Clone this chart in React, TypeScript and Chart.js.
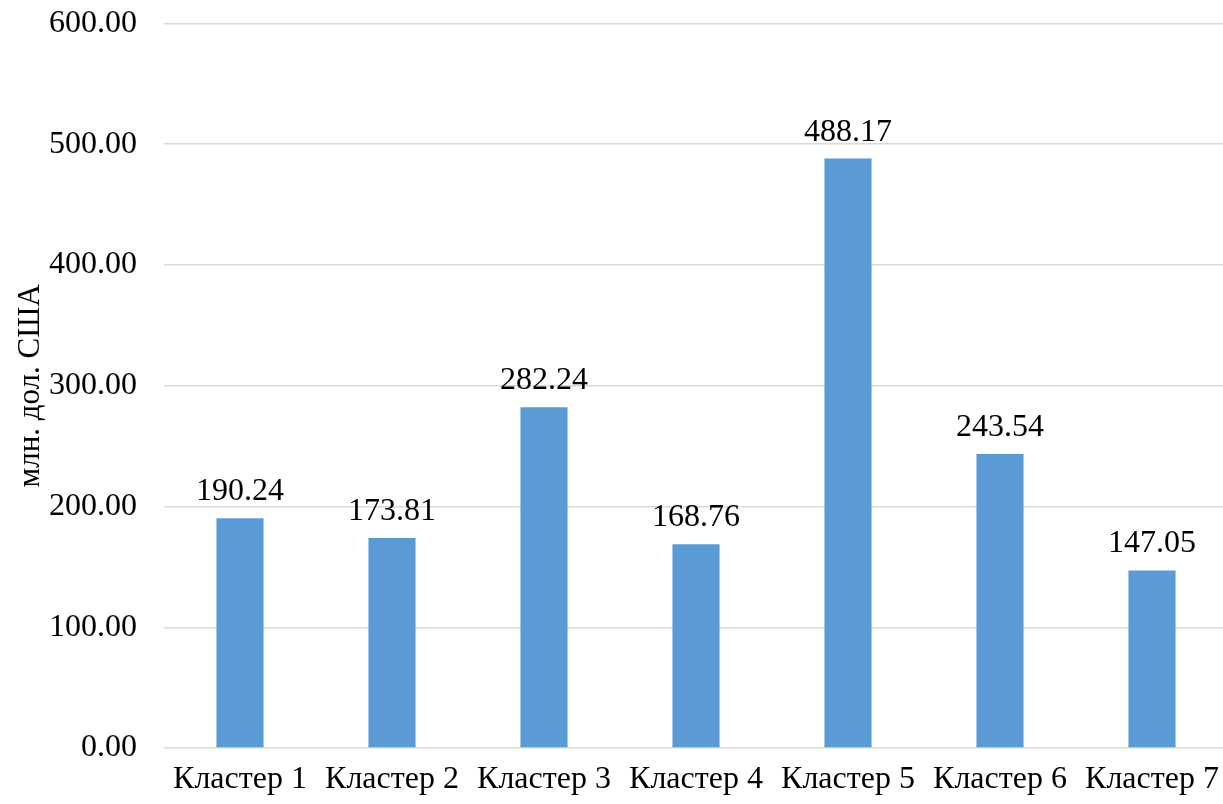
import React, { useEffect, useRef } from "react";
import { Chart, registerables } from "chart.js";

Chart.register(...registerables);

const categories = ["Кластер 1", "Кластер 2", "Кластер 3", "Кластер 4", "Кластер 5", "Кластер 6", "Кластер 7"];
const values = [190.24, 173.81, 282.24, 168.76, 488.17, 243.54, 147.05];
const yTicks = [0, 100, 200, 300, 400, 500, 600];
const yTitle = "млн. дол. США";

const FONT = "'Liberation Serif', 'Times New Roman', serif";

const dataLabels = {
  id: "dataLabels",
  afterDatasetsDraw(chart: any) {
    const ctx = chart.ctx;
    const meta = chart.getDatasetMeta(0);
    ctx.save();
    ctx.font = `32px ${FONT}`;
    ctx.fillStyle = "#000000";
    ctx.textAlign = "center";
    ctx.textBaseline = "alphabetic";
    meta.data.forEach((bar: any, i: number) => {
      ctx.fillText(values[i].toFixed(2), bar.x, bar.y - 18);
    });
    ctx.restore();
  },
};

export default function App() {
  const ref = useRef<HTMLCanvasElement | null>(null);
  useEffect(() => {
    if (!ref.current) return;
    const chart = new Chart(ref.current, {
      type: "bar",
      data: {
        labels: categories,
        datasets: [
          {
            data: values,
            backgroundColor: "#5B9BD5",
            borderWidth: 0,
            categoryPercentage: 1,
            barPercentage: 0.31,
          },
        ],
      },
      options: {
        responsive: false,
        animation: false,
        layout: { padding: { top: 23.5, right: 0, left: 0, bottom: 0 } },
        plugins: { legend: { display: false }, tooltip: { enabled: false } },
        scales: {
          x: {
            grid: { display: false, drawTicks: false },
            border: { display: false },
            ticks: {
              font: { family: FONT, size: 32 },
              color: "#000000",
              padding: 12,
              maxRotation: 0,
              autoSkip: false,
            },
            afterFit(scale: any) {
              scale.height = 56;
              scale.paddingLeft = 0;
              scale.paddingRight = 0;
            },
          },
          y: {
            min: 0,
            max: 600,
            afterBuildTicks(scale: any) {
              scale.ticks = yTicks.map((v) => ({ value: v }));
            },
            grid: { color: "#d9d9d9", lineWidth: 1.5, drawTicks: false },
            border: { display: false },
            ticks: {
              font: { family: FONT, size: 32 },
              color: "#000000",
              padding: 27,
              callback: (v: any) => Number(v).toFixed(2),
            },
            title: {
              display: true,
              text: yTitle,
              font: { family: FONT, size: 31 },
              color: "#000000",
              padding: { top: 12, bottom: 0 },
            },
            afterFit(scale: any) {
              scale.width = 164;
              scale.paddingTop = 0;
              scale.paddingBottom = 0;
            },
          },
        },
      },
      plugins: [dataLabels],
    });
    return () => chart.destroy();
  }, []);
  return (
    <div style={{ position: "absolute", left: 0, top: 0, width: 1223, height: 804, overflow: "hidden", background: "#fff" }}>
      <canvas ref={ref} width={1228} height={804} style={{ display: "block" }} />
    </div>
  );
}
